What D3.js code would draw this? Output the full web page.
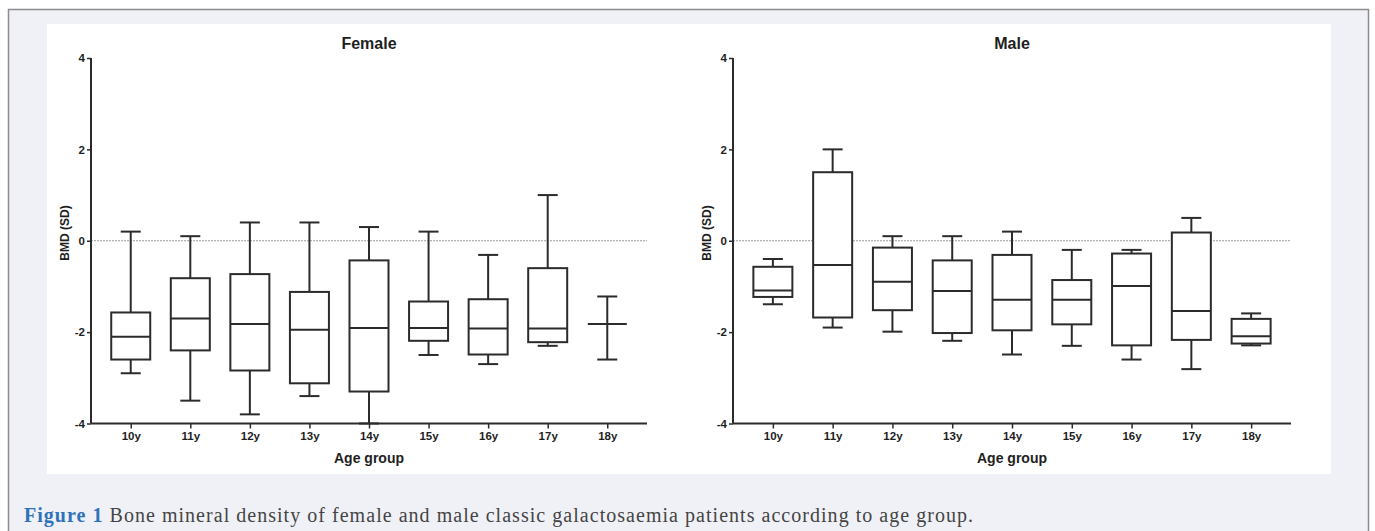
<!DOCTYPE html>
<html>
<head>
<meta charset="utf-8">
<script src="https://d3js.org/d3.v7.min.js"></script>
<style>
	body { margin: 0; background: #ffffff; }
</style>
</head>
<body>
<div id="chart"></div>
<script type="text/javascript">

	var ageGroups = ["10y", "11y", "12y", "13y", "14y", "15y", "16y", "17y", "18y"];
	var yTicks = [-4, -2, 0, 2, 4];

	// female box plot values (SD)
	var femaleMin    = [-2.9, -3.5, -3.8, -3.4, -4.0, -2.5, -2.7, -2.3, -2.6];
	var femaleQ1     = [-2.6, -2.4, -2.84, -3.12, -3.3, -2.19, -2.49, -2.22, -1.82];
	var femaleMedian = [-2.1, -1.7, -1.82, -1.95, -1.91, -1.91, -1.92, -1.92, -1.82];
	var femaleQ3     = [-1.57, -0.82, -0.73, -1.12, -0.43, -1.33, -1.28, -0.6, -1.82];
	var femaleMax    = [0.2, 0.1, 0.4, 0.4, 0.3, 0.2, -0.31, 1.0, -1.22];

	// male box plot values (SD)
	var maleMin    = [-1.39, -1.9, -1.99, -2.19, -2.49, -2.3, -2.6, -2.81, -2.29];
	var maleQ1     = [-1.23, -1.68, -1.52, -2.02, -1.96, -1.83, -2.29, -2.17, -2.25];
	var maleMedian = [-1.09, -0.53, -0.9, -1.1, -1.29, -1.29, -0.99, -1.54, -2.09];
	var maleQ3     = [-0.57, 1.5, -0.15, -0.43, -0.31, -0.86, -0.28, 0.18, -1.71];
	var maleMax    = [-0.4, 2.0, 0.1, 0.1, 0.2, -0.2, -0.2, 0.5, -1.59];

	var W = 1375, H = 531;
	var ink = '#2b2b2b';
	var chartFont = '"Liberation Sans", Arial, sans-serif';

	var svg = d3.select('#chart')
		.append('svg')
			.attr('width', W)
			.attr('height', H);

	// page frame
	svg.append('rect').attr('x', 0).attr('y', 0).attr('width', W).attr('height', H).attr('fill', '#ffffff');
	svg.append('rect')
		.attr('x', 8.5).attr('y', 9.5)
		.attr('width', 1360).attr('height', 540)
		.attr('fill', '#f0f1f7')
		.attr('stroke', '#8c8c8c')
		.attr('stroke-width', 1.5);
	svg.append('rect')
		.attr('x', 47).attr('y', 24)
		.attr('width', 1284).attr('height', 450)
		.attr('fill', '#ffffff');

	var y = d3.scaleLinear().domain([-4, 4]).range([423.5, 58]);

	function rows(mins, q1s, meds, q3s, maxs) {
		return ageGroups.map(function(g, i) {
			return {g: g, min: mins[i], q1: q1s[i], med: meds[i], q3: q3s[i], max: maxs[i]};
		});
	}

	function panel(title, x0, x1, data) {
		var x = d3.scalePoint().domain(ageGroups).range([x0, x1]).padding(0.667);
		var g = svg.append('g');
		var boxW = 39, capW = 20;

		// reference line at 0
		g.append('line')
			.attr('x1', x0).attr('x2', x1)
			.attr('y1', y(0)).attr('y2', y(0))
			.attr('stroke', '#9a9a9a')
			.attr('stroke-width', 1)
			.attr('stroke-dasharray', '2,1');

		var b = g.selectAll('g.box')
			.data(data)
			.enter()
			.append('g')
				.attr('class', 'box')
				.attr('stroke', ink)
				.attr('stroke-width', 2)
				.attr('fill', 'none');

		// whiskers
		b.append('line')
			.attr('x1', d => x(d.g)).attr('x2', d => x(d.g))
			.attr('y1', d => y(d.max)).attr('y2', d => y(d.q3));
		b.append('line')
			.attr('x1', d => x(d.g)).attr('x2', d => x(d.g))
			.attr('y1', d => y(d.q1)).attr('y2', d => y(d.min));
		b.append('line')
			.attr('x1', d => x(d.g) - capW / 2).attr('x2', d => x(d.g) + capW / 2)
			.attr('y1', d => y(d.max)).attr('y2', d => y(d.max));
		b.append('line')
			.attr('x1', d => x(d.g) - capW / 2).attr('x2', d => x(d.g) + capW / 2)
			.attr('y1', d => y(d.min)).attr('y2', d => y(d.min));

		// box
		b.append('rect')
			.attr('x', d => x(d.g) - boxW / 2)
			.attr('y', d => y(d.q3))
			.attr('width', boxW)
			.attr('height', d => y(d.q1) - y(d.q3))
			.attr('fill', '#ffffff');

		// median
		b.append('line')
			.attr('x1', d => x(d.g) - boxW / 2).attr('x2', d => x(d.g) + boxW / 2)
			.attr('y1', d => y(d.med)).attr('y2', d => y(d.med));

		// axes
		var yAxis = g.append('g')
			.attr('transform', 'translate(' + x0 + ',0)')
			.call(d3.axisLeft(y).tickValues(yTicks).tickSize(4).tickPadding(2).tickFormat(d => String(d)));
		var xAxis = g.append('g')
			.attr('transform', 'translate(0,' + y(-4) + ')')
			.call(d3.axisBottom(x).tickSize(5).tickPadding(3));

		[yAxis, xAxis].forEach(function(a) {
			a.select('.domain').attr('stroke', ink).attr('stroke-width', 2);
			a.selectAll('.tick line').attr('stroke', ink).attr('stroke-width', 1.5);
			a.selectAll('text')
				.attr('fill', '#1e1e1e')
				.style('font-family', chartFont)
				.style('font-weight', 'bold');
		});
		yAxis.select('.domain').attr('d', 'M0,' + y(4) + 'V' + y(-4));
		yAxis.selectAll('text').style('font-size', '11.5px');
		xAxis.select('.domain').attr('d', 'M' + x0 + ',0H' + x1);
		xAxis.selectAll('text').style('font-size', '11.5px');

		// titles
		g.append('text')
			.attr('x', (x0 + x1) / 2).attr('y', 49)
			.attr('text-anchor', 'middle')
			.attr('fill', '#1e1e1e')
			.style('font-family', chartFont).style('font-weight', 'bold').style('font-size', '16px')
			.text(title);
		g.append('text')
			.attr('x', (x0 + x1) / 2).attr('y', 463)
			.attr('text-anchor', 'middle')
			.attr('fill', '#1e1e1e')
			.style('font-family', chartFont).style('font-weight', 'bold').style('font-size', '14px')
			.text('Age group');
		g.append('text')
			.attr('transform', 'translate(' + (x0 - 22) + ',233) rotate(-90)')
			.attr('text-anchor', 'middle')
			.attr('fill', '#1e1e1e')
			.style('font-family', chartFont).style('font-weight', 'bold').style('font-size', '12px')
			.text('BMD (SD)');
	}

	panel('Female', 91, 647, rows(femaleMin, femaleQ1, femaleMedian, femaleQ3, femaleMax));
	panel('Male', 733, 1291, rows(maleMin, maleQ1, maleMedian, maleQ3, maleMax));

	// caption
	var cap = svg.append('text')
		.attr('x', 24).attr('y', 522)
		.attr('textLength', 949)
		.attr('lengthAdjust', 'spacing')
		.style('font-family', '"Liberation Serif", "DejaVu Serif", serif')
		.style('font-size', '20px');
	cap.append('tspan')
		.attr('fill', '#2f72b8')
		.style('font-weight', 'bold')
		.text('Figure 1');
	cap.append('tspan')
		.attr('fill', '#444444')
		.text(' Bone mineral density of female and male classic galactosaemia patients according to age group.');

</script>
</body>
</html>
